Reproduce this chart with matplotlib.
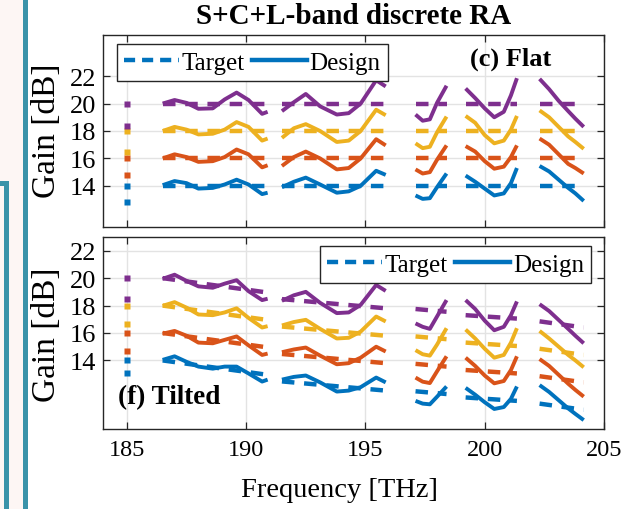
import matplotlib
matplotlib.use("Agg")
import matplotlib.pyplot as plt
from matplotlib.lines import Line2D
from matplotlib.patches import Rectangle

# ---------------- data ----------------
colours = ["#0072BD", "#D95319", "#EDB120", "#7E2F8E"]   # blue, orange, yellow, purple

# frequency knots of the five amplified bands [THz]
band1 = [186.5, 187.0, 187.5, 188.0, 188.6, 189.1, 189.6, 190.1, 190.67, 190.9]
band2 = [191.5, 192.0, 192.5, 193.1, 193.8, 194.3, 194.8, 195.45, 195.85]
band3 = [197.1, 197.4, 197.7, 198.0, 198.4]
band4 = [199.2, 199.6, 200.0, 200.4, 200.8, 201.1, 201.35]
band5 = [202.3, 202.7, 203.1, 203.5, 203.8, 204.15]
bands = [band1, band2, band3, band4, band5]

# (c) flat target gain levels [dB]
flat_target = [14, 16, 18, 20]

# (c) flat designed gain [dB], one list per band
flat_blue = [
    [14.05, 14.35, 14.2, 13.8, 13.85, 14.1, 14.45, 14.1, 13.4, 13.5],
    [13.9, 14.3, 14.6, 14.1, 13.5, 13.6, 14.0, 15.1, 14.8],
    [13.3, 13.05, 13.1, 13.9, 14.9],
    [14.75, 14.3, 13.8, 13.3, 13.45, 14.2, 15.3],
    [15.45, 15.05, 14.45, 13.85, 13.45, 12.9],
]
flat_orange = [
    [16.0, 16.3, 16.1, 15.75, 15.8, 16.1, 16.65, 16.3, 15.35, 15.5],
    [15.45, 16.1, 16.5, 16.0, 15.2, 15.3, 16.0, 17.4, 16.95],
    [15.2, 14.9, 15.0, 15.9, 16.95],
    [16.9, 16.5, 15.8, 15.25, 15.4, 16.1, 16.95],
    [17.45, 17.0, 16.3, 15.6, 15.3, 14.9],
]
flat_yellow = [
    [18.0, 18.3, 18.1, 17.75, 17.8, 18.1, 18.65, 18.3, 17.3, 17.45],
    [17.5, 18.2, 18.5, 18.0, 17.2, 17.3, 18.0, 19.55, 19.15],
    [17.1, 16.75, 16.85, 17.9, 19.05],
    [19.1, 18.6, 17.7, 17.1, 17.3, 18.1, 19.1],
    [19.5, 19.0, 18.3, 17.6, 17.2, 16.7],
]
flat_purple = [
    [20.0, 20.26, 20.05, 19.62, 19.65, 20.3, 20.8, 20.26, 19.25, 19.4],
    [19.45, 20.1, 20.7, 19.8, 19.2, 19.3, 20.0, 21.7, 21.25],
    [19.2, 18.75, 18.85, 20.05, 21.3],
    [21.1, 20.4, 19.65, 19.0, 19.4, 20.6, 21.85],
    [21.8, 21.05, 20.2, 19.45, 18.9, 18.3],
]

# (f) tilted target gain [dB]: (start, end) per band
tilt_target_blue = [(14.0, 12.95), (12.47, 11.8), (11.75, 11.55), (11.3, 11.05), (10.85, 10.4)]
tilt_target_orange = [(16.0, 14.95), (14.47, 13.8), (13.75, 13.55), (13.3, 13.05), (12.85, 12.4)]
tilt_target_yellow = [(18.0, 16.95), (16.47, 15.8), (15.75, 15.55), (15.3, 15.05), (14.85, 14.4)]
tilt_target_purple = [(20.0, 18.95), (18.47, 17.8), (17.75, 17.55), (17.3, 17.05), (16.85, 16.4)]

# (f) tilted designed gain [dB], one list per band
tilt_blue = [
    [14.04, 14.3, 13.9, 13.55, 13.4, 13.55, 13.55, 13.05, 12.46, 12.6],
    [12.6, 12.8, 12.9, 12.4, 11.73, 11.8, 12.05, 12.75, 12.4],
    [11.05, 10.85, 10.8, 11.35, 12.1],
    [12.0, 11.5, 10.95, 10.46, 10.6, 11.2, 12.1],
    [12.2, 11.7, 11.1, 10.5, 10.1, 9.65],
]
tilt_orange = [
    [15.95, 16.15, 15.8, 15.3, 15.25, 15.5, 15.75, 15.1, 14.4, 14.5],
    [14.6, 14.8, 14.94, 14.35, 13.72, 13.8, 14.2, 15.0, 14.65],
    [12.75, 12.45, 12.35, 13.2, 14.3],
    [14.2, 13.6, 12.9, 12.33, 12.5, 13.3, 14.3],
    [14.1, 13.6, 12.95, 12.3, 11.85, 11.36],
]
tilt_yellow = [
    [17.98, 18.25, 17.85, 17.35, 17.3, 17.5, 17.8, 17.1, 16.4, 16.5],
    [16.55, 16.8, 16.96, 16.3, 15.6, 15.65, 16.1, 17.2, 16.84],
    [14.75, 14.45, 14.35, 15.15, 16.35],
    [16.25, 15.6, 14.85, 14.2, 14.4, 15.3, 16.35],
    [16.15, 15.6, 15.0, 14.4, 14.0, 13.5],
]
tilt_purple = [
    [19.95, 20.25, 19.8, 19.4, 19.3, 19.6, 19.85, 19.05, 18.4, 18.5],
    [18.35, 18.75, 19.0, 18.2, 17.45, 17.5, 18.05, 19.5, 19.07],
    [16.7, 16.45, 16.3, 17.2, 18.4],
    [18.4, 17.75, 16.9, 16.2, 16.45, 17.3, 18.3],
    [18.1, 17.6, 16.95, 16.3, 15.8, 15.25],
]

# isolated points at 185 THz [dB], per colour
mark_freq = 185
flat_marks = [[14, 12.8], [16, 14.8], [18, 16.45], [20, 18.4]]
tilt_marks = [[14, 13.07], [16, 14.7], [18, 16.65], [20, 18.45]]

xticks = [185, 190, 195, 200, 205]
yticks = [14, 16, 18, 20, 22]

# ---------------- style ----------------
plt.rcParams["font.family"] = ["Liberation Serif", "DejaVu Serif"]
plt.rcParams["lines.scale_dashes"] = False
W, H = 631, 510
fig = plt.figure(figsize=(W / 100, H / 100), dpi=100)
fig.patch.set_facecolor("white")

def px(x0, y0, x1, y1):
    return [x0 / W, 1 - y1 / H, (x1 - x0) / W, (y1 - y0) / H]

# slide edge strip on the left
pink = "#fdf6f4"
teal = "#3a93a9"
for (x0, y0, x1, y1, c) in [(0, 0, 23, 510, pink), (22.5, 0, 27.5, 510, teal),
                            (0, 182, 8.5, 187, teal), (3.5, 182, 8.5, 510, teal)]:
    fig.add_artist(Rectangle((x0 / W, 1 - y1 / H), (x1 - x0) / W, (y1 - y0) / H,
                             transform=fig.transFigure, facecolor=c, edgecolor="none", zorder=0))

ax_top = fig.add_axes(px(103, 36, 604, 228))
ax_bot = fig.add_axes(px(103, 238, 604, 430))

TGT_LW, DES_LW = 3.2, 2.8
DASH = (9.0, 7.0)

def style_axes(ax, ylim, show_xlabels):
    ax.set_xlim(184, 205)
    ax.set_ylim(*ylim)
    ax.set_xticks(xticks)
    ax.set_yticks(yticks)
    ax.grid(True, color="#e3e3e3", lw=1.0, zorder=0)
    ax.set_axisbelow(True)
    ax.tick_params(direction="in", top=True, right=True, length=5, width=0.9,
                   color="#262626")
    ax.tick_params(axis="x", labelsize=17.5, pad=7.5, labelbottom=show_xlabels)
    ax.tick_params(axis="y", labelsize=19, pad=5)
    for s in ax.spines.values():
        s.set_color("#262626")
        s.set_linewidth(1.0)

def draw_panel(ax, designs, targets, marks, flat):
    for ci, (col, des) in enumerate(zip(colours, designs)):
        for bi, f in enumerate(bands):
            ax.plot(f, des[bi], color=col, lw=DES_LW, solid_capstyle="butt",
                    solid_joinstyle="round", zorder=3)
            if flat:
                tv = [targets[ci], targets[ci]]
            else:
                tv = list(targets[ci][bi])
            ax.plot([f[0], f[-1]], tv, color=col, lw=TGT_LW, dashes=DASH,
                    dash_capstyle="butt", zorder=4)
        ax.plot([mark_freq] * len(marks[ci]), marks[ci], ls="none", marker="s",
                ms=3.8, mec="none", color=col, zorder=4)

style_axes(ax_top, (11, 25), False)
style_axes(ax_bot, (9, 23), True)

draw_panel(ax_top, [flat_blue, flat_orange, flat_yellow, flat_purple],
           flat_target, flat_marks, True)
draw_panel(ax_bot, [tilt_blue, tilt_orange, tilt_yellow, tilt_purple],
           [tilt_target_blue, tilt_target_orange, tilt_target_yellow, tilt_target_purple],
           tilt_marks, False)

handles = [Line2D([], [], color=colours[0], lw=TGT_LW, dashes=(8, 5)),
           Line2D([], [], color=colours[0], lw=TGT_LW)]
labels = ["Target", "Design"]
leg_kw = dict(ncol=2, fontsize=18, handlelength=2.2, handletextpad=0.1,
              columnspacing=0.3, borderpad=0.28, borderaxespad=0.0,
              fancybox=False, framealpha=1, edgecolor="#262626")
lt = ax_top.legend(handles, labels, loc="upper left", bbox_to_anchor=(0.028, 0.953), **leg_kw)
lb = ax_bot.legend(handles, labels, loc="upper right", bbox_to_anchor=(0.974, 0.953), **leg_kw)
for lg in (lt, lb):
    lg.get_frame().set_linewidth(1.0)
    lg.set_zorder(10)

ax_top.text(0.7325, 0.88, "(c) Flat", transform=ax_top.transAxes, fontsize=19,
            fontweight="bold", ha="left", va="center", zorder=11)
ax_bot.text(0.03, 0.167, "(f) Tilted", transform=ax_bot.transAxes, fontsize=19.5,
            fontweight="bold", ha="left", va="center", zorder=11)

fig.text(353.5 / W, 1 - 16 / H, "S+C+L-band discrete RA", fontsize=21,
         fontweight="bold", ha="center", va="center")
fig.text(47 / W, 1 - 131 / H, "Gain [dB]", fontsize=24, rotation=90,
         ha="center", va="center")
fig.text(47 / W, 1 - 335 / H, "Gain [dB]", fontsize=24, rotation=90,
         ha="center", va="center")
fig.text(339 / W, 1 - 491 / H, "Frequency [THz]", fontsize=20.5,
         ha="center", va="center")

fig.savefig("out.png", dpi=100)
